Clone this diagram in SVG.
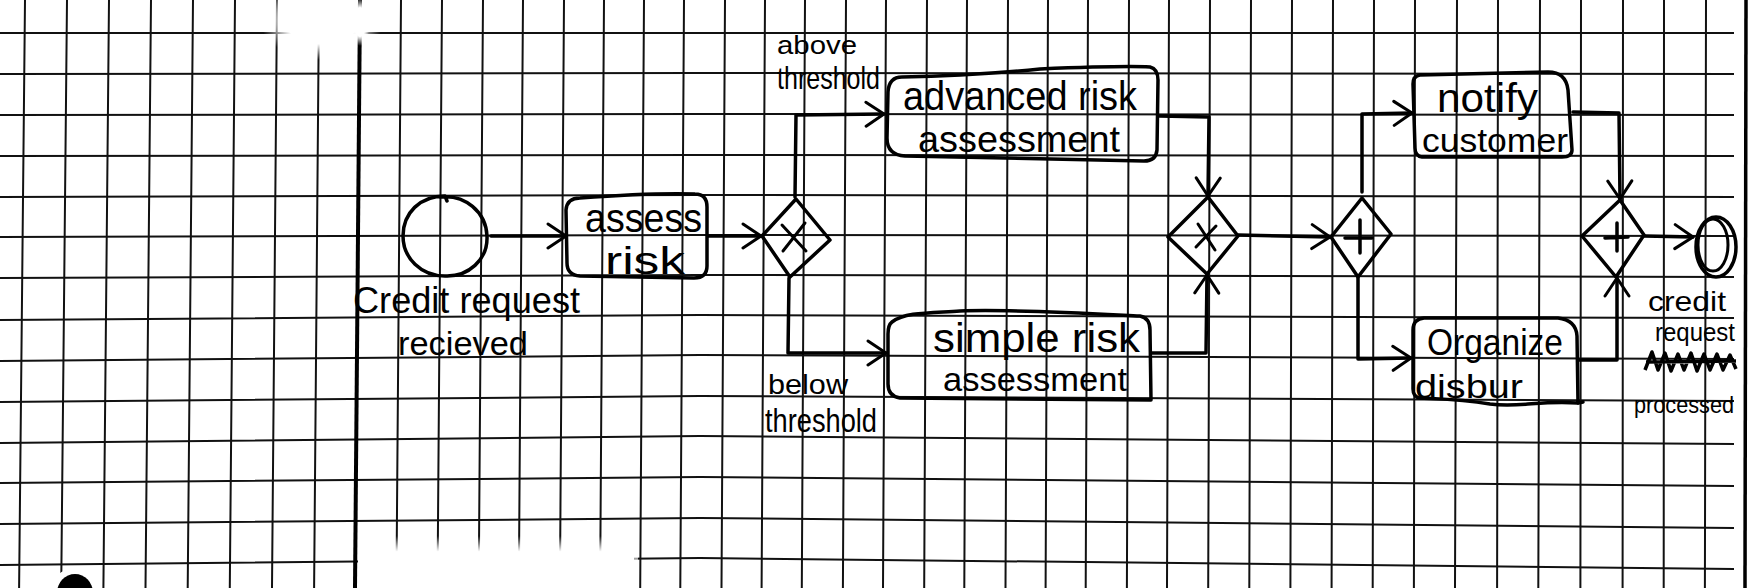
<svg xmlns="http://www.w3.org/2000/svg" width="1749" height="588" viewBox="0 0 1749 588">
<style>
.grid{stroke:#111;stroke-width:2;fill:none}
.pen{stroke:#000;stroke-width:3.5;fill:none;stroke-linecap:round;stroke-linejoin:round}
.thin{stroke:#000;stroke-width:3;fill:none;stroke-linecap:round;stroke-linejoin:round}
.t{font-family:"Liberation Sans","DejaVu Sans",sans-serif;fill:#000}
</style>
<defs>
<marker id="arr" viewBox="0 0 22 28" refX="20" refY="14" markerWidth="22" markerHeight="28" markerUnits="userSpaceOnUse" orient="auto">
<path d="M2,2 L20,14 L2,26" fill="none" stroke="#000" stroke-width="3" stroke-linecap="round" stroke-linejoin="round"/>
</marker>
<radialGradient id="glare">
<stop offset="0" stop-color="#fff" stop-opacity="1"/>
<stop offset="0.6" stop-color="#fff" stop-opacity="1"/>
<stop offset="1" stop-color="#fff" stop-opacity="0"/>
</radialGradient>
<linearGradient id="fadeV" x1="0" y1="0" x2="0" y2="1">
<stop offset="0" stop-color="#fff" stop-opacity="0"/>
<stop offset="0.3" stop-color="#fff" stop-opacity="1"/>
<stop offset="1" stop-color="#fff" stop-opacity="1"/>
</linearGradient>
</defs>
<rect width="1749" height="588" fill="#fff"/>
<g id="paper">
<path class="grid" d="M25 0L19.1 588M67 0L61.2 588M109 0L103.4 588M151 0L145.5 588M193 0L187.7 588M235 0L229.8 588M277 0L272 588M319 0L314.1 588M401 0L396.4 588M442 0L437.5 588M483 0L478.7 588M523 0L518.8 588M564 0L559.9 588M604 0L600.1 588M644 0L640.2 588M684 0L680.3 588M725 0L721.5 588M765 0L761.6 588M805 0L801.8 588M846 0L842.9 588M886 0L883 588M927 0L924.2 588M967 0L964.3 588M1008 0L1005.5 588M1048 0L1045.6 588M1088 0L1085.7 588M1129 0L1126.9 588M1169 0L1167 588M1210 0L1208.2 588M1251 0L1249.3 588M1292 0L1290.4 588M1333 0L1331.6 588M1374 0L1372.7 588M1415 0L1413.9 588M1457 0L1455 588M1498 0L1497.1 588M1540 0L1538.3 588M1581 0L1580.4 588M1623 0L1622.6 588M1664 0L1663.7 588M1706 0L1704.9 588"/>
<path class="grid" d="M0 33L700 33L1734 33M0 74L700 73L1734 74M0 115L700 114L1734 115M0 156L700 155L1734 156M0 197L700 195L1734 197M0 237L700 235L1734 236M0 278L700 275L1734 277M0 320L700 315L1734 318M0 361L700 355L1734 359M0 402L700 396L1734 401M0 443L700 436L1734 444M0 483L700 477L1734 486M0 524L700 518L1734 528M0 565L700 558L1734 569"/>
<ellipse cx="322" cy="20" rx="62" ry="40" fill="url(#glare)"/>
<rect x="358" y="536" width="276" height="52" fill="url(#fadeV)"/>
<rect x="620" y="548" width="18" height="40" fill="#fff" opacity="0.6"/>
<path d="M360 0L355 588" stroke="#000" stroke-width="4" fill="none"/>
<ellipse cx="360" cy="22" rx="10" ry="24" fill="url(#glare)"/>
<path d="M1746 0L1745 588" stroke="#000" stroke-width="3.5" fill="none"/>
<ellipse cx="76" cy="592" rx="26" ry="24" fill="#fff"/>
<ellipse cx="75" cy="593" rx="18" ry="19" fill="#000"/>
</g>
<g id="connectors">
<path class="pen" marker-end="url(#arr)" d="M491 236L566 236"/>
<path class="pen" marker-end="url(#arr)" d="M708 236L761 236"/>
<path class="pen" marker-end="url(#arr)" d="M795 197L796 115L884 114"/>
<path class="pen" marker-end="url(#arr)" d="M789 278L788 353L886 353"/>
<path class="pen" marker-end="url(#arr)" d="M1159 116L1209 117L1208 196"/>
<path class="pen" marker-end="url(#arr)" d="M1152 353L1206 353L1207 275"/>
<path class="pen" marker-end="url(#arr)" d="M1238 235L1330 237"/>
<path class="pen" marker-end="url(#arr)" d="M1362 192L1362 114L1412 113"/>
<path class="pen" marker-end="url(#arr)" d="M1358 278L1358 359L1411 358"/>
<path class="pen" marker-end="url(#arr)" d="M1573 112L1619 113L1620 199"/>
<path class="pen" marker-end="url(#arr)" d="M1579 360L1617 360L1617 278"/>
<path class="pen" marker-end="url(#arr)" d="M1644 236L1693 237"/>
</g>
<g id="start">
<path class="pen" d="M440 197C465 194 486 212 487 236C488 260 468 277 445 276C421 276 403 258 403 236C403 213 420 196 445 196L447 201"/>
<text class="t" x="353" y="313" font-size="36" textLength="227" lengthAdjust="spacingAndGlyphs">Credit request</text>
<text class="t" x="398" y="355" font-size="34" textLength="130" lengthAdjust="spacingAndGlyphs">recieved</text>
</g>
<g id="assess">
<path class="pen" d="M580 198C620 195 660 193 695 194Q707 194 707 207L707 266Q707 278 694 278L580 276Q567 275 567 263L566 210Q567 198 580 198Z"/>
<text class="t" x="585" y="232" font-size="40" textLength="117" lengthAdjust="spacingAndGlyphs">assess</text>
<text class="t" x="605" y="274" font-size="38" textLength="80" lengthAdjust="spacingAndGlyphs">risk</text>
</g>
<g id="gw1">
<path class="pen" d="M762 236L796 199L830 240L790 277Z"/>
<path class="thin" d="M782 225L806 251M805 223L783 251"/>
<text class="t" x="777" y="54" font-size="26" textLength="80" lengthAdjust="spacingAndGlyphs">above</text>
<text class="t" x="777" y="89" font-size="32" textLength="103" lengthAdjust="spacingAndGlyphs">threshold</text>
<text class="t" x="768" y="394" font-size="28" textLength="80" lengthAdjust="spacingAndGlyphs">below</text>
<text class="t" x="765" y="432" font-size="34" textLength="112" lengthAdjust="spacingAndGlyphs">threshold</text>
</g>
<g id="advanced">
<path class="pen" d="M902 77C960 76 1000 73 1040 69C1090 67 1130 66 1150 67Q1158 69 1158 80L1157 150Q1156 161 1144 161L905 156Q887 155 887 138L888 92Q889 77 902 77Z"/>
<text class="t" x="903" y="110" font-size="40" textLength="234" lengthAdjust="spacingAndGlyphs">advanced risk</text>
<text class="t" x="918" y="152" font-size="36" textLength="202" lengthAdjust="spacingAndGlyphs">assessment</text>
</g>
<g id="simple">
<path class="pen" d="M892 322C905 312 930 313 960 311C1010 309 1080 313 1140 316Q1150 318 1150 330L1151 400L900 398Q888 396 888 384L888 334Q888 325 892 322Z"/>
<text class="t" x="933" y="352" font-size="40" textLength="207" lengthAdjust="spacingAndGlyphs">simple risk</text>
<text class="t" x="943" y="391" font-size="33" textLength="184" lengthAdjust="spacingAndGlyphs">assessment</text>
</g>
<g id="gw2">
<path class="pen" d="M1168 237L1208 197L1238 236L1207 274Z"/>
<path class="thin" d="M1198 224L1215 250M1216 226L1196 247"/>
</g>
<g id="par1">
<path class="pen" d="M1331 237L1362 198L1391 234L1358 277Z"/>
<path class="pen" stroke-width="4.5" d="M1360 220L1360 253M1345 238L1372 238"/>
</g>
<g id="notify">
<path class="pen" d="M1420 75L1548 72Q1566 72 1568 90L1572 150Q1572 157 1562 157L1422 157Q1415 156 1415 148L1413 84Q1413 76 1420 75Z"/>
<text class="t" x="1437" y="112" font-size="40" textLength="101" lengthAdjust="spacingAndGlyphs">notify</text>
<text class="t" x="1422" y="152" font-size="34" textLength="146" lengthAdjust="spacingAndGlyphs">customer</text>
</g>
<g id="organize">
<path class="pen" d="M1424 318L1558 318Q1576 320 1577 336L1578 403C1540 400 1520 408 1490 404C1460 399 1440 399 1420 398Q1413 397 1413 389L1413 330Q1413 319 1424 318Z"/>
<path class="pen" d="M1578 403L1583 402"/>
<text class="t" x="1427" y="355" font-size="36" textLength="136" lengthAdjust="spacingAndGlyphs">Organize</text>
<text class="t" x="1415" y="398" font-size="34" textLength="108" lengthAdjust="spacingAndGlyphs">disbur</text>
</g>
<g id="par2">
<path class="pen" d="M1582 236L1620 200L1644 235L1616 277Z"/>
<path class="pen" stroke-width="4.5" d="M1617 223L1617 251M1605 238L1628 237"/>
</g>
<g id="end">
<ellipse class="pen" stroke-width="5" cx="1716" cy="247" rx="20" ry="30"/>
<ellipse class="thin" stroke-width="2.5" cx="1713" cy="245" rx="15" ry="26"/>
<text class="t" x="1648" y="311" font-size="28" textLength="78" lengthAdjust="spacingAndGlyphs">credit</text>
<text class="t" x="1655" y="341" font-size="26" textLength="80" lengthAdjust="spacingAndGlyphs">request</text>
<path stroke="#000" stroke-width="3.5" fill="none" stroke-linejoin="round" d="M1645 370L1652 352L1658 370L1665 353L1671 371L1678 354L1684 370L1691 353L1697 371L1704 354L1710 370L1717 354L1723 370L1730 355L1736 369M1646 362L1736 361"/>
<text class="t" x="1634" y="413" font-size="24" textLength="100" lengthAdjust="spacingAndGlyphs">processed</text>
</g>
</svg>
